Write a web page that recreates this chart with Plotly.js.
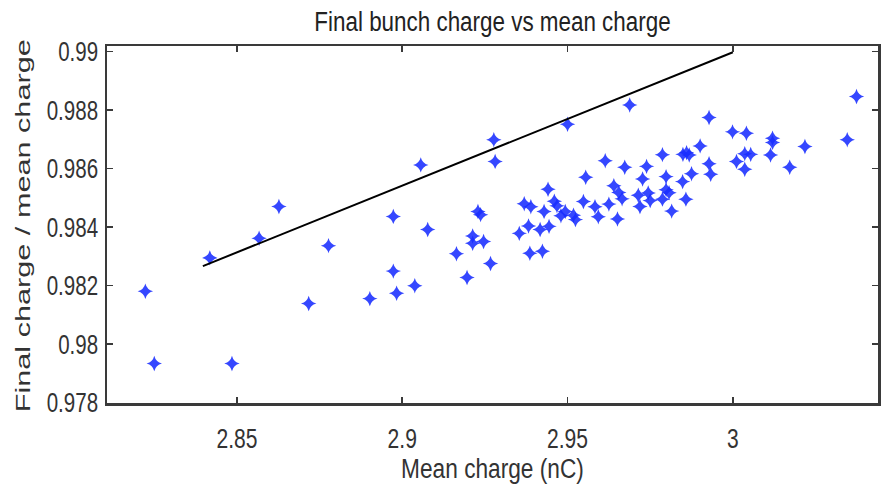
<!DOCTYPE html>
<html>
<head>
<meta charset="utf-8">
<script src="https://cdn.plot.ly/plotly-3.0.1.min.js"></script>
<style>
  html, body { margin: 0; padding: 0; background: #fff; }
  #chart { width: 882px; height: 487px; }
</style>
</head>
<body>
<div id="chart"></div>
<script>
// Mean charge (nC)
const meanCharge = [
  2.8223, 2.8250, 2.8485, 2.8418, 2.8567, 2.8627, 2.8777, 2.8717, 2.8902, 2.8973,
  2.8983, 2.8973, 2.9038, 2.9056, 2.9077, 2.9164, 2.9196, 2.9213, 2.9213, 2.9229,
  2.9237, 2.9246, 2.9267, 2.9277, 2.9281,
  2.9354, 2.9369, 2.9389, 2.9382, 2.9386, 2.9424, 2.9417, 2.9444, 2.9429, 2.9441,
  2.9460, 2.9468, 2.9480, 2.9493, 2.9518, 2.9524, 2.9548, 2.9555, 2.9583, 2.9593,
  2.9500, 2.9614, 2.9625, 2.9640, 2.9655, 2.9665, 2.9651, 2.9673, 2.9688,
  2.9739, 2.9727, 2.9714, 2.9719, 2.9744, 2.9750, 2.9787, 2.9798, 2.9798, 2.9807,
  2.9787, 2.9815, 2.9848, 2.9858, 2.9849, 2.9860, 2.9868, 2.9875, 2.9901, 2.9928,
  2.9928, 2.9933, 2.9999, 3.0041, 3.0011, 3.0036, 3.0054, 3.0036, 3.0120, 3.0120,
  3.0114, 3.0172, 3.0218, 3.0346, 3.0374
];
// Final charge / mean charge
const chargeRatio = [
  0.98181, 0.97934, 0.97934, 0.98295, 0.98362, 0.98471, 0.98337, 0.98139, 0.98156, 0.98250,
  0.98174, 0.98437, 0.98200, 0.98613, 0.98392, 0.98309, 0.98228, 0.98370, 0.98345, 0.98454,
  0.98443, 0.98351, 0.98276, 0.98699, 0.98625,
  0.98379, 0.98480, 0.98470, 0.98404, 0.98311, 0.98318, 0.98392, 0.98403, 0.98454, 0.98530,
  0.98489, 0.98473, 0.98439, 0.98454, 0.98441, 0.98426, 0.98488, 0.98571, 0.98470, 0.98436,
  0.98752, 0.98627, 0.98479, 0.98542, 0.98519, 0.98497, 0.98428, 0.98605, 0.98818,
  0.98608, 0.98565, 0.98509, 0.98471, 0.98517, 0.98491, 0.98648, 0.98573, 0.98528, 0.98518,
  0.98496, 0.98455, 0.98556, 0.98496, 0.98649, 0.98655, 0.98647, 0.98583, 0.98678, 0.98775,
  0.98617, 0.98581, 0.98726, 0.98721, 0.98625, 0.98651, 0.98649, 0.98598, 0.98704, 0.98690,
  0.98647, 0.98605, 0.98676, 0.98699, 0.98847
];
// Reference line
const lineX = [2.8397, 3.0];
const lineY = [0.98267, 0.98998];

const xTickVals = [2.85, 2.9, 2.95, 3.0];
const xTickText = ['2.85', '2.9', '2.95', '3'];
const yTickVals = [0.978, 0.98, 0.982, 0.984, 0.986, 0.988, 0.99];
const yTickText = ['0.978', '0.98', '0.982', '0.984', '0.986', '0.988', '0.99'];

const titleText = 'Final bunch charge vs mean charge';
const xTitleText = 'Mean charge (nC)';
const yTitleText = 'Final charge / mean charge';

const font = '"Liberation Sans", Arial, Helvetica, sans-serif';
const axisColor = '#3a3a3a';

const data = [
  {
    x: meanCharge, y: chargeRatio, type: 'scatter', mode: 'markers',
    marker: { symbol: 'star-diamond', size: 11, color: 'rgba(25,45,255,0.88)', line: { width: 0 } }
  },
  {
    x: lineX, y: lineY, type: 'scatter', mode: 'lines',
    line: { color: '#000', width: 2 }
  }
];

const layout = {
  width: 882, height: 487,
  margin: { l: 107, r: 4, t: 46, b: 84 },
  paper_bgcolor: '#fff', plot_bgcolor: '#fff',
  showlegend: false,
  title: {
    text: titleText,
    font: { family: font, size: 27, color: '#222' },
    x: 0.5, xref: 'paper', y: 0.955, yref: 'container', yanchor: 'middle'
  },
  xaxis: {
    range: [2.8107, 3.0439],
    tickvals: xTickVals, ticktext: xTickText,
    ticks: 'inside', ticklen: 6, tickwidth: 1.5, tickcolor: axisColor,
    showline: true, linecolor: axisColor, linewidth: 2.5, mirror: 'allticks',
    showgrid: false, zeroline: false,
    tickfont: { family: font, size: 27, color: '#333' },
    ticklabelstandoff: 10,
    title: { text: xTitleText, font: { family: font, size: 27, color: '#333' }, standoff: 4 }
  },
  yaxis: {
    range: [0.97799, 0.990195],
    tickvals: yTickVals, ticktext: yTickText,
    ticks: 'inside', ticklen: 6, tickwidth: 1.5, tickcolor: axisColor,
    showline: true, linecolor: axisColor, linewidth: 2.5, mirror: 'allticks',
    showgrid: false, zeroline: false,
    tickfont: { family: font, size: 27, color: '#333' },
    ticklabelstandoff: 1
  },
  annotations: [{
    text: yTitleText, textangle: -90, showarrow: false,
    xref: 'paper', yref: 'paper', x: 0, y: 0.5, xanchor: 'center', yanchor: 'middle',
    xshift: -85, yshift: -2,
    font: { family: font, size: 20, color: '#333' }
  }]
};

function squeeze(sel, factor, fixedLen) {
  document.querySelectorAll(sel).forEach(function (t) {
    const len = t.getComputedTextLength();
    if (!len) return;
    t.setAttribute('textLength', (fixedLen || len * factor).toFixed(1));
    t.setAttribute('lengthAdjust', 'spacingAndGlyphs');
  });
}

Plotly.newPlot('chart', data, layout, { displayModeBar: false, staticPlot: true }).then(function () {
  squeeze('#chart .gtitle', 0.83);
  squeeze('#chart .xtitle', 0.84);
  squeeze('#chart .xtick text', 0.78);
  squeeze('#chart .ytick text', 0.76);
  squeeze('#chart .annotation-text', 1, 373);
});
</script>
</body>
</html>
